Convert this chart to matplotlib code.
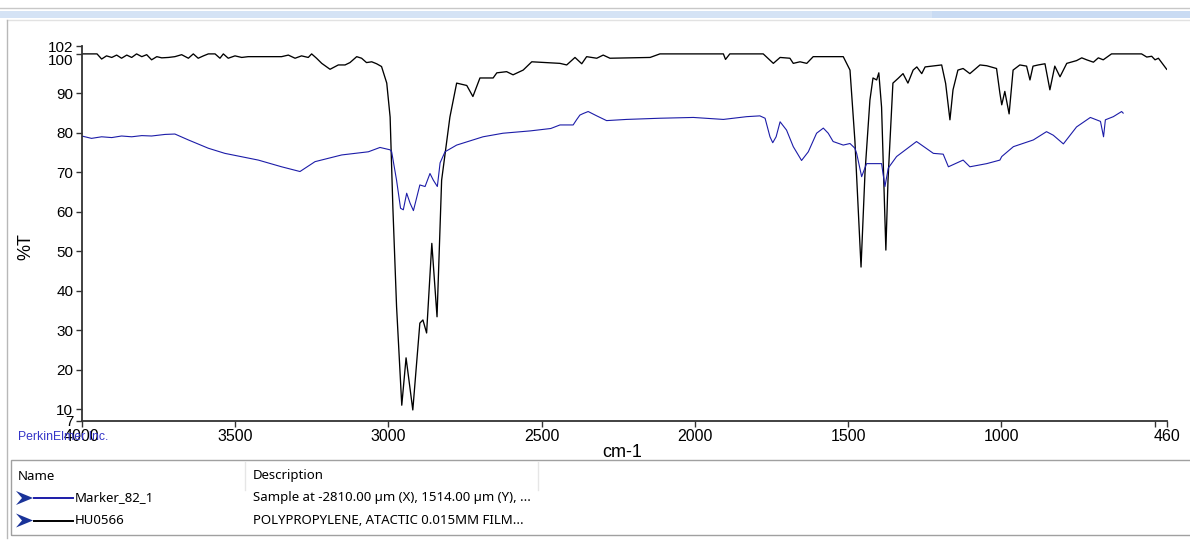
import matplotlib
matplotlib.use("Agg")
import matplotlib.pyplot as plt
from matplotlib.lines import Line2D
from matplotlib.patches import Rectangle, Polygon

# HU0566 reference spectrum (black), wavenumber cm-1 / %T
black_wn = [4000, 3950, 3935, 3919, 3902, 3886, 3870, 3853, 3837, 3821, 3804, 3788,
            3772, 3755, 3739, 3717, 3696, 3674, 3652, 3636, 3620, 3603, 3587, 3565,
            3549, 3538, 3522, 3500, 3478, 3457, 3348, 3326, 3304, 3283, 3261, 3250,
            3234, 3217, 3190, 3163, 3141, 3125, 3103, 3087, 3071, 3054, 3038, 3022,
            3005, 2994, 2985, 2973, 2956, 2942, 2920, 2897, 2887, 2875, 2858, 2841,
            2826, 2799, 2777, 2744, 2724, 2701, 2658, 2646, 2614, 2593, 2560, 2532,
            2440, 2418, 2391, 2369, 2353, 2320, 2299, 2277, 2146, 2114, 1907, 1900,
            1886, 1777, 1744, 1722, 1690, 1679, 1657, 1635, 1614, 1516, 1494, 1478,
            1458, 1445, 1429, 1419, 1407, 1400, 1391, 1383, 1377, 1370, 1354, 1337,
            1321, 1305, 1288, 1276, 1260, 1249, 1195, 1182, 1168, 1158, 1142, 1125,
            1103, 1070, 1048, 1016, 1005, 999, 989, 975, 962, 940, 918, 907, 897,
            880, 858, 842, 826, 809, 787, 755, 738, 722, 700, 684, 668, 641, 543,
            526, 510, 499, 488, 461]
black_t = [100, 100, 98.7, 99.5, 99.1, 99.7, 98.9, 99.7, 99.1, 100, 99.3, 99.8,
           98.5, 99.3, 99.0, 99.1, 99.3, 99.8, 98.9, 100, 98.9, 99.5, 100, 100,
           98.9, 100, 98.9, 99.5, 99.1, 99.3, 99.3, 99.7, 98.9, 99.5, 99.1, 100,
           98.9, 97.6, 96.1, 97.2, 97.2, 97.8, 99.3, 98.9, 97.8, 98.0, 97.5, 96.8,
           92.6, 84.0, 61.0, 36.0, 11.0, 23.0, 9.8, 31.8, 32.6, 29.3, 52.0, 33.4,
           68.0, 84.0, 92.6, 92.0, 89.2, 93.9, 93.9, 95.2, 95.5, 94.7, 95.9, 98.0,
           97.6, 97.2, 99.1, 97.5, 99.3, 98.9, 99.7, 98.9, 99.1, 100, 100, 98.6,
           100, 100, 97.6, 99.1, 98.9, 97.6, 98.0, 97.6, 99.3, 99.3, 95.9, 78.0,
           46.0, 70.0, 88.3, 93.9, 93.4, 95.2, 86.5, 65.5, 50.3, 68.0, 92.6, 93.8,
           95.0, 92.6, 95.9, 96.7, 95.0, 96.7, 97.2, 92.5, 83.3, 90.9, 95.9, 96.3,
           95.0, 97.2, 97.0, 96.3, 90.0, 87.1, 90.5, 84.8, 95.9, 97.2, 96.9, 93.4, 96.9,
           97.2, 97.5, 90.9, 96.9, 94.2, 97.6, 98.3, 99.0, 98.5, 97.9, 99.0, 98.5, 100, 100,
           99.2, 99.4, 98.5, 98.9, 96.1]

# Marker_82_1 sample spectrum (blue)
blue_wn = [4000, 3968, 3935, 3902, 3870, 3837, 3804, 3772, 3728, 3696, 3652, 3587,
           3533, 3424, 3348, 3288, 3239, 3152, 3065, 3027, 2994, 2989, 2973, 2960,
           2951, 2940, 2929, 2918, 2897, 2880, 2864, 2853, 2840, 2831, 2815, 2777,
           2691, 2626, 2536, 2470, 2440, 2397, 2386, 2375, 2364, 2348, 2320, 2288,
           2223, 2114, 2005, 1907, 1831, 1788, 1771, 1755, 1746, 1735, 1722, 1701,
           1679, 1652, 1630, 1603, 1581, 1565, 1549, 1516, 1494, 1478, 1472, 1456,
           1440, 1391, 1380, 1369, 1342, 1277, 1222, 1190, 1173, 1125, 1103, 1048,
           1005, 999, 961, 896, 853, 831, 798, 755, 710, 677, 667, 661, 635, 608, 603]
blue_t = [79.2, 78.6, 79.0, 78.8, 79.2, 79.0, 79.3, 79.2, 79.6, 79.7, 78.2, 76.1,
          74.8, 73.1, 71.4, 70.2, 72.7, 74.4, 75.2, 76.3, 75.7, 75.2, 68.0, 60.9,
          60.5, 64.7, 62.2, 60.3, 66.8, 66.4, 69.7, 68.0, 66.4, 72.4, 75.2, 76.9,
          79.0, 79.9, 80.5, 81.1, 82.0, 82.0, 83.3, 84.5, 84.9, 85.4, 84.3, 83.1,
          83.4, 83.7, 83.9, 83.4, 84.1, 84.3, 83.7, 79.0, 77.5, 79.0, 82.8, 80.7,
          76.5, 73.0, 75.2, 79.9, 81.2, 79.9, 77.8, 76.9, 77.3, 76.1, 74.7, 68.9,
          72.2, 72.2, 66.4, 71.1, 74.0, 77.8, 74.8, 74.6, 71.4, 73.1, 71.4, 72.2,
          73.1, 74.0, 76.5, 78.2, 80.3, 79.4, 77.2, 81.5, 83.9, 82.9, 79.0, 83.3, 84.1, 85.4, 85.0]

x_ticks = [4000, 3500, 3000, 2500, 2000, 1500, 1000, 500, 460]
x_labels = ['4000', '3500', '3000', '2500', '2000', '1500', '1000', '', '460']
y_ticks = [7, 10, 20, 30, 40, 50, 60, 70, 80, 90, 100, 102]

names = ['Marker_82_1', 'HU0566']
descriptions = ['Sample at -2810.00 µm (X), 1514.00 µm (Y), ...',
                'POLYPROPYLENE, ATACTIC 0.015MM FILM...']
colors = ['#1c1ca8', '#000000']

W, H = 1190, 540
plt.rcParams['font.family'] = ['Liberation Sans', 'DejaVu Sans']

fig = plt.figure(figsize=(W / 100, H / 100), dpi=100)


def fx(x):
    return x / W


def fy(y):
    return 1 - y / H


ax = fig.add_axes([fx(81.7), fy(421), fx(1167) - fx(81.7), fy(46) - fy(421)])
ax.plot(black_wn, black_t, color=colors[1], lw=0.95)
ax.plot(blue_wn, blue_t, color=colors[0], lw=0.8)
ax.set_xlim(4000, 460)
ax.set_ylim(7, 102)
ax.set_xticks(x_ticks)
ax.set_xticklabels(x_labels)
ax.set_yticks(y_ticks)
ax.tick_params(labelsize=11.5, length=4, width=1, color='#333333', pad=2)
ax.tick_params(axis='y', labelsize=11)
# 100 sits just under the crowded 102 label, as in the original
ax.get_yticklabels()[y_ticks.index(100)].set_verticalalignment('top')
for s in ['top', 'right']:
    ax.spines[s].set_visible(False)
for s in ['left', 'bottom']:
    ax.spines[s].set_color('#333333')
    ax.spines[s].set_linewidth(1.3)
ax.set_xlabel('cm-1', fontsize=13)
ax.set_ylabel('%T', fontsize=13)
ax.xaxis.set_label_coords((622 - 81.7) / (1167 - 81.7), -(444 - 421) / (421 - 46))
ax.yaxis.set_label_coords(-(81.7 - 34) / (1167 - 81.7), (421 - 247) / (421 - 46))

fig.text(fx(18), fy(437), 'PerkinElmer Inc.', color='#3535c8', fontsize=8.8, va='center')

# window chrome
fig.add_artist(Line2D([0, 1], [fy(8), fy(8)], color='#c8c8c8', lw=1))
fig.add_artist(Rectangle((0, fy(18)), fx(932), fy(11) - fy(18), color='#d5e3f5', lw=0))
fig.add_artist(Rectangle((fx(932), fy(18)), 1 - fx(932), fy(11) - fy(18), color='#c9dbf3', lw=0))
fig.add_artist(Line2D([fx(7), 1], [fy(20), fy(20)], color='#e2e2e2', lw=1))
fig.add_artist(Line2D([fx(7), fx(7)], [fy(20), fy(538)], color='#b8b8b8', lw=1))

# legend table
fig.add_artist(Rectangle((fx(10.5), fy(535)), 1.0, fy(460) - fy(535), fill=False,
                         edgecolor='#a0a0a0', lw=1))
for cx in [245, 538]:
    fig.add_artist(Line2D([fx(cx), fx(cx)], [fy(462), fy(490)], color='#e6e6e6', lw=1))
tfont = ['Noto Sans', 'DejaVu Sans']
fig.text(fx(18), fy(476), 'Name', fontsize=9.5, family=tfont, va='center')
fig.text(fx(253), fy(476), 'Description', fontsize=9.5, family=tfont, va='center')
for i, (nm, ds, c) in enumerate(zip(names, descriptions, colors)):
    yc = 498 + i * 22.5
    fig.add_artist(Polygon([(fx(16), fy(yc - 7)), (fx(33), fy(yc)), (fx(16), fy(yc + 7)),
                            (fx(22), fy(yc))], closed=True, color='#1a3399', lw=0))
    fig.add_artist(Line2D([fx(34), fx(73)], [fy(yc), fy(yc)], color=c, lw=1.4))
    fig.text(fx(75), fy(yc), nm, fontsize=9.5, family=tfont, va='center')
    fig.text(fx(253), fy(yc), ds, fontsize=9.5, family=tfont, va='center')

fig.savefig('out.png', dpi=100)
